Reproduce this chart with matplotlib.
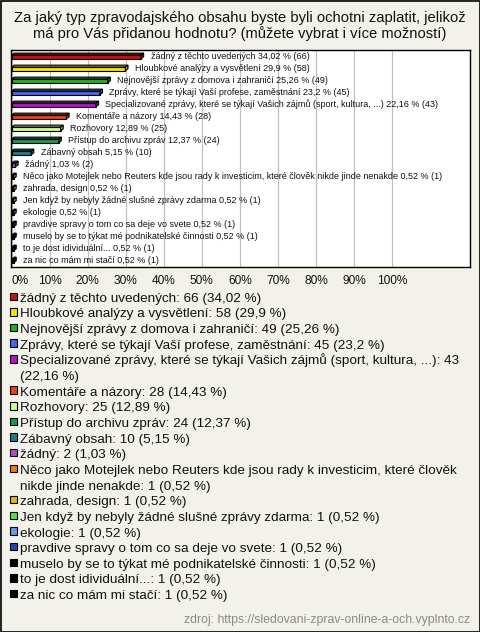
import matplotlib
matplotlib.use('Agg')
import matplotlib.pyplot as plt
import matplotlib.colors as mcolors
from matplotlib.patches import Rectangle

# ---- data ----
categories = [
    "žádný z těchto uvedených",
    "Hloubkové analýzy a vysvětlení",
    "Nejnovější zprávy z domova i zahraničí",
    "Zprávy, které se týkají Vaší profese, zaměstnání",
    "Specializované zprávy, které se týkají Vašich zájmů (sport, kultura, ...)",
    "Komentáře a názory",
    "Rozhovory",
    "Přístup do archivu zpráv",
    "Zábavný obsah",
    "žádný",
    "Něco jako Motejlek nebo Reuters kde jsou rady k investicim, které člověk nikde jinde nenakde",
    "zahrada, design",
    "Jen když by nebyly žádné slušné zprávy zdarma",
    "ekologie",
    "pravdive spravy o tom co sa deje vo svete",
    "muselo by se to týkat mé podnikatelské činnosti",
    "to je dost idividuální...",
    "za nic co mám mi stačí",
]
counts = [66, 58, 49, 45, 43, 28, 25, 24, 10, 2, 1, 1, 1, 1, 1, 1, 1, 1]
percents = [34.02, 29.9, 25.26, 23.2, 22.16, 14.43, 12.89, 12.37, 5.15, 1.03,
            0.52, 0.52, 0.52, 0.52, 0.52, 0.52, 0.52, 0.52]
colors = ["#c4140c", "#f7e000", "#1fb21f", "#4466ee", "#b413c8", "#e8420f",
          "#cdfa8c", "#1f9655", "#1f7a8a", "#b848c0", "#ee7a10", "#e8b800",
          "#55e634", "#6b95e6", "#2346a8", "#000000", "#000000", "#000000"]
xticks = [0, 10, 20, 30, 40, 50, 60, 70, 80, 90, 100]
title = ("Za jaký typ zpravodajského obsahu byste byli ochotni zaplatit, jelikož\n"
         "má pro Vás přidanou hodnotu? (můžete vybrat i více možností)")
source = "zdroj: https://sledovani-zprav-online-a-och.vyplnto.cz"

W, H = 480, 632
BG = "#f3f2ea"
plt.rcParams['font.family'] = ['Liberation Sans', 'DejaVu Sans']

fig = plt.figure(figsize=(W / 100, H / 100), dpi=100, facecolor=BG)

def fx(px):
    return px / W

def fy(py):
    return 1 - py / H

# figure border
fig.patches.append(Rectangle((0.5 / W, 0.5 / H), 1 - 1 / W, 1 - 1 / H,
                             transform=fig.transFigure, fill=False,
                             edgecolor='black', linewidth=1.2))

fig.text(0.5, fy(26), title, ha='center', va='center', fontsize=10.6,
         linespacing=1.05, color='#111111')

# ---- bar chart ----
ax = fig.add_axes([fx(11), fy(267), fx(470 - 11), (267 - 50) / H])
ax.set_facecolor('white')
n = len(categories)
ax.set_xlim(-0.15, 120.5)
ax.set_ylim(n - 0.42, -0.5)
for t in xticks:
    ax.axvline(t, color='#c0c0c0', linewidth=0.9, zorder=0)

h = 0.3
dx = 0.7
dy = 0.17
for i, (v, c) in enumerate(zip(percents, colors)):
    dark = tuple(x * 0.7 for x in mcolors.to_rgb(c))
    yc = i + 0.08
    ytop = yc - h / 2
    ybot = yc + h / 2
    ax.barh(yc, v, height=h, left=0, color=c, edgecolor='black',
            linewidth=0.8, zorder=3)
    ax.fill([0, v, v + dx, dx], [ytop, ytop, ytop - dy, ytop - dy],
            facecolor=dark, edgecolor='black', linewidth=0.8, zorder=3)
    ax.fill([v, v + dx, v + dx, v], [ytop, ytop - dy, ybot - dy, ybot],
            facecolor=dark, edgecolor='black', linewidth=0.8, zorder=3)
    pct = str(v).replace('.', ',')
    ax.annotate(f"{categories[i]} {pct} % ({counts[i]})", xy=(v + dx, i),
                xytext=(5, 0), textcoords='offset points', va='center',
                ha='left', fontsize=6.5, color='#111111', zorder=4)

ax.set_yticks([])
ax.set_xticks(xticks)
ax.set_xticklabels([f"{t}%" for t in xticks], fontsize=8.6, color='#111111')
ax.tick_params(axis='x', length=0, pad=6)
ax.get_xticklabels()[0].set_horizontalalignment('left')
for s in ax.spines.values():
    s.set_color('black')
    s.set_linewidth(1.0)

# ---- legend below ----
fig.canvas.draw()
renderer = fig.canvas.get_renderer()
LEG_FS = 9.7
max_w = 468 - 21

def text_width(s):
    t = fig.text(0, 0, s, fontsize=LEG_FS)
    w = t.get_window_extent(renderer).width
    t.remove()
    return w

def wrap(s):
    words = s.split(' ')
    lines, cur = [], ''
    for wd in words:
        cand = wd if not cur else cur + ' ' + wd
        if cur and text_width(cand) > max_w:
            lines.append(cur)
            cur = wd
        else:
            cur = cand
    lines.append(cur)
    return lines

y = 297.0
step = 15.65
for i, (name, cnt, v, c) in enumerate(zip(categories, counts, percents, colors)):
    pct = str(v).replace('.', ',')
    lines = wrap(f"{name}: {cnt} ({pct} %)")
    fig.patches.append(Rectangle((fx(9.5), fy(y + 3)), 7.5 / W, 7.5 / H,
                                 transform=fig.transFigure, facecolor=c,
                                 edgecolor='black', linewidth=0.8))
    for ln in lines:
        fig.text(fx(20.5), fy(y + 4.8), ln, fontsize=LEG_FS, va='baseline',
                 ha='left', color='#111111')
        y += step

fig.text(fx(470), fy(620), source, fontsize=8.8, ha='right', va='center',
         color='#8a8a8a')

fig.savefig('out.png', dpi=100, facecolor=BG)
